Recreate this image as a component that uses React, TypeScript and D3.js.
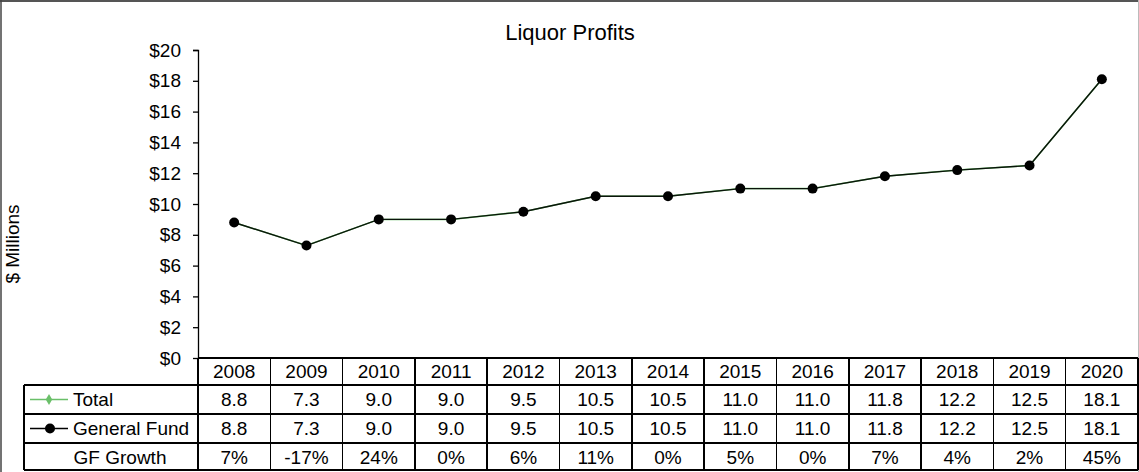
import React, { useRef, useEffect } from 'react';
import * as d3 from 'd3';

const years = ['2008', '2009', '2010', '2011', '2012', '2013', '2014', '2015', '2016', '2017', '2018', '2019', '2020'];
const total = [8.8, 7.3, 9.0, 9.0, 9.5, 10.5, 10.5, 11.0, 11.0, 11.8, 12.2, 12.5, 18.1];
const generalFund = [8.8, 7.3, 9.0, 9.0, 9.5, 10.5, 10.5, 11.0, 11.0, 11.8, 12.2, 12.5, 18.1];
const gfGrowth = ['7%', '-17%', '24%', '0%', '6%', '11%', '0%', '5%', '0%', '7%', '4%', '2%', '45%'];
const yTicks = [0, 2, 4, 6, 8, 10, 12, 14, 16, 18, 20];

const W = 1139;
const H = 472;
const FONT = 'Liberation Sans, Arial, sans-serif';
const FS = 19;

const App: React.FC = () => {
  const svgRef = useRef<SVGSVGElement | null>(null);

  useEffect(() => {
    if (!svgRef.current) return;
    const svg = d3.select(svgRef.current);
    svg.selectAll('*').remove();

    const left = 198;
    const right = 1138;
    const top = 50;
    const bottom = 358;
    const rowH = [27, 29, 29, 28];
    const labelLeft = 24;

    const x = d3.scaleBand<string>().domain(years).range([left, right]);
    const y = d3.scaleLinear().domain([0, 20]).range([bottom, top]);
    const cx = (d: string) => (x(d) as number) + x.bandwidth() / 2;

    // background + frame
    svg.append('rect').attr('x', 0).attr('y', 0).attr('width', W).attr('height', H).attr('fill', '#fff');
    svg.append('line').attr('x1', 0).attr('x2', W).attr('y1', 1).attr('y2', 1).attr('stroke', '#555').attr('stroke-width', 2);
    svg.append('line').attr('x1', 1).attr('x2', 1).attr('y1', 0).attr('y2', H).attr('stroke', '#444').attr('stroke-width', 1.5);
    svg.append('line').attr('x1', W - 0.5).attr('x2', W - 0.5).attr('y1', 0).attr('y2', H).attr('stroke', '#bbb').attr('stroke-width', 1);

    // title
    svg.append('text')
      .attr('x', 570).attr('y', 40)
      .attr('text-anchor', 'middle')
      .attr('font-family', FONT).attr('font-size', 22)
      .text('Liquor Profits');

    // y axis label
    svg.append('text')
      .attr('transform', `translate(19,244) rotate(-90)`)
      .attr('text-anchor', 'middle')
      .attr('font-family', FONT).attr('font-size', FS)
      .text('$ Millions');

    // y axis
    const yAxis = svg.append('g').attr('transform', `translate(${left},0)`)
      .call(d3.axisLeft(y).tickValues(yTicks).tickSize(5).tickPadding(12).tickFormat(d => `$${d}`));
    yAxis.select('.domain').attr('stroke', '#000').attr('stroke-width', 1.3).attr('d', `M-5,${top}.5H0.5V${bottom}`);
    yAxis.selectAll('.tick line').attr('stroke', '#000').attr('stroke-width', 1.3);
    yAxis.selectAll('.tick text').attr('font-family', FONT).attr('font-size', FS).attr('fill', '#000');

    // lines
    const line = d3.line<number>().x((_, i) => cx(years[i])).y(d => y(d));
    svg.append('path').datum(total).attr('d', line).attr('fill', 'none').attr('stroke', '#6abf69').attr('stroke-width', 1.5);
    svg.append('path').datum(generalFund).attr('d', line).attr('fill', 'none').attr('stroke', '#0a140a').attr('stroke-width', 1.4);
    svg.selectAll('circle.gf').data(generalFund).join('circle').attr('class', 'gf')
      .attr('cx', (_, i) => cx(years[i])).attr('cy', d => y(d)).attr('r', 5).attr('fill', '#000');

    // data table
    const rowTops: number[] = [];
    let acc = bottom;
    rowH.forEach(h => { rowTops.push(acc); acc += h; });
    const tableBottom = acc - 1;
    const tbl = svg.append('g').attr('stroke', '#000').attr('stroke-width', 1.5).attr('shape-rendering', 'crispEdges');
    tbl.append('line').attr('x1', left).attr('x2', right).attr('y1', bottom).attr('y2', bottom);
    rowTops.slice(1).forEach(t => {
      tbl.append('line').attr('x1', labelLeft).attr('x2', right).attr('y1', t).attr('y2', t);
    });
    tbl.append('line').attr('x1', labelLeft).attr('x2', right).attr('y1', tableBottom).attr('y2', tableBottom);
    tbl.append('line').attr('x1', labelLeft).attr('x2', labelLeft).attr('y1', rowTops[1]).attr('y2', tableBottom);
    years.forEach(yr => {
      const xx = x(yr) as number;
      tbl.append('line').attr('x1', xx).attr('x2', xx).attr('y1', bottom).attr('y2', tableBottom);
    });
    tbl.append('line').attr('x1', right).attr('x2', right).attr('y1', bottom).attr('y2', tableBottom);

    const rows: string[][] = [
      years,
      total.map(v => v.toFixed(1)),
      generalFund.map(v => v.toFixed(1)),
      gfGrowth,
    ];
    rows.forEach((r, ri) => {
      const mid = rowTops[ri] + rowH[ri] / 2;
      svg.append('g').selectAll('text').data(r).join('text')
        .attr('x', (_, i) => cx(years[i]))
        .attr('y', mid + 6.5)
        .attr('text-anchor', 'middle')
        .attr('font-family', FONT).attr('font-size', FS)
        .text(d => d);
    });

    // row labels with legend keys
    const tMid = rowTops[1] + rowH[1] / 2;
    svg.append('line').attr('x1', 30).attr('x2', 68).attr('y1', tMid).attr('y2', tMid).attr('stroke', '#6abf69').attr('stroke-width', 1.3);
    svg.append('path').attr('d', d3.symbol(d3.symbolDiamond, 36)()).attr('transform', `translate(49,${tMid})`).attr('fill', '#6abf69');
    svg.append('text').attr('x', 73).attr('y', tMid + 6.5).attr('font-family', FONT).attr('font-size', FS).text('Total');

    const gMid = rowTops[2] + rowH[2] / 2;
    svg.append('line').attr('x1', 30).attr('x2', 68).attr('y1', gMid).attr('y2', gMid).attr('stroke', '#000').attr('stroke-width', 1.3);
    svg.append('circle').attr('cx', 50).attr('cy', gMid).attr('r', 5).attr('fill', '#000');
    svg.append('text').attr('x', 73).attr('y', gMid + 6.5).attr('font-family', FONT).attr('font-size', FS).text('General Fund');

    const grMid = rowTops[3] + rowH[3] / 2;
    svg.append('text').attr('x', 120).attr('y', grMid + 6.5).attr('text-anchor', 'middle')
      .attr('font-family', FONT).attr('font-size', FS).text('GF Growth');
  }, []);

  return (
    <svg ref={svgRef} width={W} height={H}
      style={{ position: 'absolute', left: 0, top: 0, display: 'block' }} />
  );
};

export default App;
